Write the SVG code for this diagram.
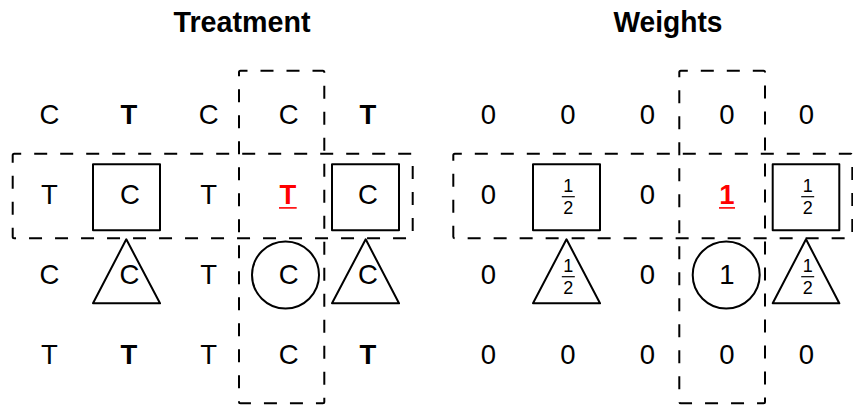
<svg xmlns="http://www.w3.org/2000/svg" width="853" height="405" viewBox="0 0 853 405">
<style>
.t{font-family:"Liberation Sans",Arial,sans-serif;font-size:27.5px;text-anchor:middle;fill:#000}
.b{font-weight:bold}
.red{fill:#ff0000;font-weight:bold}
.fr{font-family:"Liberation Sans",Arial,sans-serif;font-size:18px;text-anchor:middle;fill:#000}
.title{font-family:"Liberation Sans",Arial,sans-serif;font-size:29px;font-weight:bold;text-anchor:middle;fill:#000}
.dash{fill:none;stroke:#000;stroke-width:2;stroke-dasharray:13 13}
.shape{fill:none;stroke:#000;stroke-width:2;stroke-linejoin:round}
.bar{stroke:#000;stroke-width:1.2}
.ul{stroke:#ff0000;stroke-width:1.6}
</style>
<rect width="853" height="405" fill="#fff"/>
<g id="titles">
<text class="title" x="242" y="31.7" textLength="137" lengthAdjust="spacingAndGlyphs">Treatment</text>
<text class="title" x="668" y="31.7" textLength="109" lengthAdjust="spacingAndGlyphs">Weights</text>
</g>
<g id="connectors">
<rect class="dash" x="239" y="70.7" width="85.3" height="332.6" rx="1.5" stroke-dashoffset="6"/>
<rect class="dash" x="12.7" y="153.7" width="400" height="84.6" rx="1.5" stroke-dashoffset="6"/>
<rect class="dash" x="679.3" y="70.7" width="85.7" height="332.6" rx="1.5" stroke-dashoffset="6"/>
<rect class="dash" x="453.3" y="153.7" width="399" height="84.6" rx="1.5" stroke-dashoffset="6"/>
</g>
<g id="treatment">
<g id="t-r1">
<text class="t" x="49.5" y="123.8">C</text>
<text class="t b" x="129" y="123.8">T</text>
<text class="t" x="208.7" y="123.8">C</text>
<text class="t" x="288.8" y="123.8">C</text>
<text class="t b" x="368" y="123.8">T</text>
</g>
<g id="t-r2">
<text class="t" x="49.5" y="203.8">T</text>
<g id="t-sq1"><rect class="shape" x="93" y="164.3" width="67" height="66"/><text class="t" x="130" y="203.8">C</text></g>
<text class="t" x="208.7" y="203.8">T</text>
<g id="t-focal"><text class="t red" x="287.8" y="203.8">T</text><line class="ul" x1="279" y1="207.9" x2="296.7" y2="207.9"/></g>
<g id="t-sq2"><rect class="shape" x="332" y="164.3" width="67" height="66"/><text class="t" x="368" y="203.8">C</text></g>
</g>
<g id="t-r3">
<text class="t" x="49.5" y="283.8">C</text>
<g id="t-tri1"><polygon class="shape" points="126.3,239.3 160,303.3 93,303.3"/><text class="t" x="129.5" y="283.8">C</text></g>
<text class="t" x="208.7" y="283.8">T</text>
<g id="t-circ"><circle class="shape" cx="285.5" cy="275" r="33.5"/><text class="t" x="288.8" y="283.8">C</text></g>
<g id="t-tri2"><polygon class="shape" points="365.7,239.3 399,303.3 332,303.3"/><text class="t" x="368" y="283.8">C</text></g>
</g>
<g id="t-r4">
<text class="t" x="49.5" y="363.8">T</text>
<text class="t b" x="129" y="363.8">T</text>
<text class="t" x="208.7" y="363.8">T</text>
<text class="t" x="288.8" y="363.8">C</text>
<text class="t b" x="368" y="363.8">T</text>
</g>
</g>
<g id="weights">
<g id="w-r1">
<text class="t" x="488.3" y="123.8">0</text>
<text class="t" x="567.8" y="123.8">0</text>
<text class="t" x="647.3" y="123.8">0</text>
<text class="t" x="726.8" y="123.8">0</text>
<text class="t" x="806.5" y="123.8">0</text>
</g>
<g id="w-r2">
<text class="t" x="488.3" y="203.8">0</text>
<g id="w-sq1"><rect class="shape" x="533" y="164.3" width="67" height="66"/>
<text class="fr" x="568.3" y="192">1</text><line class="bar" x1="561.8" y1="196.7" x2="574.8" y2="196.7"/><text class="fr" x="568.3" y="214.3">2</text></g>
<text class="t" x="647.3" y="203.8">0</text>
<g id="w-focal"><text class="t red" x="727" y="203.8">1</text><line class="ul" x1="719" y1="207.9" x2="735" y2="207.9"/></g>
<g id="w-sq2"><rect class="shape" x="772.7" y="164.3" width="66.6" height="66"/>
<text class="fr" x="807.7" y="192">1</text><line class="bar" x1="801.2" y1="196.7" x2="814.2" y2="196.7"/><text class="fr" x="807.7" y="214.3">2</text></g>
</g>
<g id="w-r3">
<text class="t" x="488.3" y="283.8">0</text>
<g id="w-tri1"><polygon class="shape" points="566.5,239.3 600,303.3 533,303.3"/>
<text class="fr" x="568.3" y="272">1</text><line class="bar" x1="561.8" y1="276.7" x2="574.8" y2="276.7"/><text class="fr" x="568.3" y="294.3">2</text></g>
<text class="t" x="647.3" y="283.8">0</text>
<g id="w-circ"><circle class="shape" cx="726.2" cy="275" r="33.5"/><text class="t" x="726.8" y="283.8">1</text></g>
<g id="w-tri2"><polygon class="shape" points="806,239.3 839.3,303.3 772.7,303.3"/>
<text class="fr" x="807.7" y="272">1</text><line class="bar" x1="801.2" y1="276.7" x2="814.2" y2="276.7"/><text class="fr" x="807.7" y="294.3">2</text></g>
</g>
<g id="w-r4">
<text class="t" x="488.3" y="363.8">0</text>
<text class="t" x="567.8" y="363.8">0</text>
<text class="t" x="647.3" y="363.8">0</text>
<text class="t" x="726.8" y="363.8">0</text>
<text class="t" x="806.5" y="363.8">0</text>
</g>
</g>
</svg>
